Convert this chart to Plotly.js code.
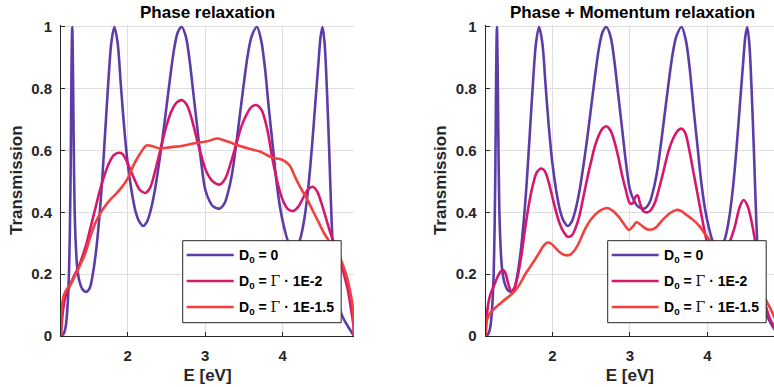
<!DOCTYPE html>
<html>
<head>
<meta charset="utf-8">
<script src="https://cdn.plot.ly/plotly-3.0.1.min.js"></script>
<style>
  html, body { margin: 0; padding: 0; background: #fff; overflow: hidden; }
  #chart { width: 774px; height: 387px; }
</style>
</head>
<body>
<div id="chart"></div>
<script>
// ---------------- DATA ----------------
const panelTitles = ["Phase relaxation", "Phase + Momentum relaxation"];
const xAxisTitle = "E [eV]";
const yAxisTitle = "Transmission";
const seriesNames = [
  "D<sub>0</sub> = 0",
  "D<sub>0</sub> = <span style=\"font-family:'DejaVu Serif';font-weight:normal\">\u0393</span> \u00b7 1E-2",
  "D<sub>0</sub> = <span style=\"font-family:'DejaVu Serif';font-weight:normal\">\u0393</span> \u00b7 1E-1.5"
];
const seriesColors = ["#5e3ca8", "#d5186e", "#f2403f"];
const xTickVals = [2, 3, 4];
const xTickText = ["2", "3", "4"];
const yTickVals = [0, 0.2, 0.4, 0.6, 0.8, 1];
const yTickText = ["0", "0.2", "0.4", "0.6", "0.8", "1"];

// D0 = 0 (no relaxation) – identical in both panels
const E_D0 = [1.14,1.16,1.18,1.20,1.22,1.24,1.255,1.265,1.275,1.285,1.295,1.305,1.315,1.33,1.35,1.38,1.42,1.466,1.51,1.55,1.59,1.63,1.67,1.71,1.75,1.79,1.828,1.87,1.91,1.95,2.0,2.05,2.1,2.15,2.2,2.25,2.3,2.35,2.4,2.45,2.5,2.55,2.6,2.65,2.697,2.75,2.8,2.85,2.9,2.95,3.0,3.05,3.1,3.19,3.25,3.3,3.35,3.4,3.45,3.5,3.55,3.6,3.667,3.72,3.77,3.82,3.87,3.92,3.97,4.02,4.08,4.15,4.22,4.28,4.33,4.38,4.42,4.46,4.49,4.514,4.54,4.57,4.6,4.63,4.66,4.70,4.76,4.82,4.87,4.92];
const T_D0 = [0,0.003,0.01,0.03,0.08,0.18,0.35,0.55,0.85,1.0,0.85,0.6,0.42,0.3,0.22,0.175,0.15,0.143,0.155,0.2,0.27,0.37,0.5,0.66,0.82,0.95,1.0,0.95,0.82,0.69,0.56,0.47,0.405,0.37,0.356,0.37,0.41,0.47,0.55,0.64,0.74,0.84,0.93,0.985,1.0,0.97,0.89,0.78,0.67,0.56,0.475,0.44,0.42,0.413,0.43,0.47,0.53,0.62,0.72,0.82,0.91,0.97,1.0,0.96,0.87,0.74,0.62,0.5,0.41,0.35,0.3,0.28,0.31,0.38,0.48,0.62,0.75,0.88,0.97,1.0,0.95,0.8,0.6,0.38,0.22,0.12,0.07,0.04,0.02,0];

// Phase relaxation, D0 = Γ·1E-2
const E_phase_m2 = [1.14,1.15,1.17,1.20,1.25,1.30,1.36,1.42,1.47,1.52,1.58,1.64,1.70,1.76,1.82,1.88,1.93,1.98,2.04,2.1,2.16,2.23,2.29,2.35,2.42,2.5,2.57,2.64,2.705,2.77,2.84,2.9,2.96,3.02,3.1,3.19,3.26,3.33,3.4,3.47,3.54,3.6,3.667,3.73,3.8,3.87,3.94,4.0,4.07,4.14,4.2,4.27,4.33,4.385,4.44,4.5,4.56,4.62,4.68,4.74,4.79,4.84,4.88,4.91,4.92];
const T_phase_m2 = [0,0.04,0.09,0.13,0.16,0.19,0.22,0.26,0.3,0.35,0.41,0.47,0.52,0.56,0.585,0.593,0.59,0.57,0.535,0.5,0.472,0.463,0.48,0.53,0.6,0.68,0.73,0.757,0.763,0.745,0.69,0.63,0.575,0.53,0.5,0.49,0.51,0.56,0.62,0.68,0.72,0.742,0.747,0.73,0.67,0.57,0.49,0.44,0.41,0.405,0.418,0.45,0.475,0.483,0.47,0.43,0.38,0.33,0.29,0.25,0.2,0.15,0.09,0.04,0];

// Phase relaxation, D0 = Γ·1E-1.5
const E_phase_m15 = [1.14,1.145,1.15,1.17,1.2,1.27,1.36,1.45,1.53,1.6,1.68,1.77,1.85,1.92,1.99,2.07,2.16,2.245,2.33,2.417,2.5,2.58,2.675,2.76,2.846,2.94,3.03,3.145,3.25,3.36,3.47,3.58,3.707,3.8,3.878,3.965,4.03,4.094,4.16,4.23,4.3,4.38,4.46,4.54,4.62,4.7,4.77,4.83,4.87,4.9,4.915,4.92];
const T_phase_m15 = [0,0.06,0.09,0.125,0.145,0.17,0.215,0.265,0.33,0.375,0.41,0.44,0.46,0.48,0.505,0.55,0.59,0.617,0.613,0.607,0.609,0.612,0.614,0.618,0.623,0.627,0.63,0.639,0.633,0.623,0.613,0.605,0.597,0.585,0.576,0.573,0.565,0.55,0.515,0.48,0.45,0.41,0.37,0.33,0.3,0.27,0.235,0.19,0.145,0.1,0.05,0];

// Phase + Momentum relaxation, D0 = Γ·1E-2
const E_mom_m2 = [1.14,1.15,1.17,1.2,1.25,1.3,1.34,1.37,1.40,1.43,1.47,1.5,1.55,1.6,1.65,1.7,1.75,1.8,1.858,1.9,1.95,2.0,2.05,2.1,2.15,2.2,2.25,2.3,2.35,2.4,2.45,2.5,2.55,2.6,2.65,2.695,2.75,2.8,2.85,2.9,2.95,3.0,3.04,3.07,3.1,3.13,3.17,3.22,3.26,3.32,3.38,3.44,3.5,3.56,3.62,3.665,3.71,3.76,3.82,3.88,3.94,3.99,4.05,4.12,4.2,4.28,4.35,4.42,4.468,4.52,4.57,4.62,4.66,4.7,4.75,4.8,4.86,4.92];
const T_mom_m2 = [0,0.05,0.1,0.135,0.165,0.195,0.21,0.213,0.2,0.17,0.145,0.15,0.19,0.26,0.35,0.43,0.49,0.53,0.542,0.535,0.5,0.45,0.4,0.36,0.335,0.321,0.325,0.35,0.39,0.45,0.51,0.565,0.615,0.65,0.672,0.679,0.665,0.63,0.58,0.52,0.47,0.43,0.43,0.45,0.455,0.43,0.405,0.4,0.405,0.43,0.48,0.54,0.6,0.64,0.665,0.671,0.66,0.61,0.53,0.45,0.37,0.31,0.27,0.25,0.26,0.3,0.35,0.42,0.44,0.42,0.37,0.3,0.22,0.15,0.1,0.06,0.03,0];

// Phase + Momentum relaxation, D0 = Γ·1E-1.5
const E_mom_m15 = [1.14,1.145,1.16,1.2,1.28,1.36,1.45,1.52,1.58,1.65,1.75,1.82,1.88,1.93,1.98,2.04,2.1,2.16,2.22,2.28,2.35,2.42,2.5,2.6,2.71,2.78,2.86,2.93,2.99,3.04,3.086,3.14,3.2,3.26,3.33,3.42,3.52,3.6,3.66,3.74,3.82,3.9,3.97,4.05,4.15,4.25,4.35,4.45,4.55,4.65,4.75,4.83,4.88,4.92];
const T_mom_m15 = [0,0.035,0.055,0.075,0.095,0.112,0.13,0.147,0.168,0.2,0.237,0.265,0.29,0.302,0.3,0.285,0.27,0.262,0.262,0.275,0.305,0.345,0.378,0.403,0.414,0.405,0.385,0.36,0.343,0.355,0.368,0.36,0.348,0.344,0.35,0.375,0.398,0.408,0.405,0.39,0.375,0.355,0.33,0.305,0.28,0.265,0.255,0.245,0.22,0.18,0.12,0.08,0.05,0];

// ---------------- LAYOUT / DRAW ----------------
const W = 774, H = 387;
const fx = p => p / W;
const fy = p => 1 - p / H;

const plotL = [61, 354];      // left panel x pixels
const plotR0 = 485.7;         // right panel left x pixel
const yTopPx = 27, yBotPx = 336;
const xMin = 1.14, xMax = 4.92;
const pxPerEV = (plotL[1] - plotL[0]) / (xMax - xMin);
const xMaxRight = xMin + (W - plotR0) / pxPerEV;
const yTopRange = 1.008;
const yDomTopPx = yBotPx - (yBotPx - yTopPx) * yTopRange;

const ink = "#262626";
const fontFam = "'Liberation Sans', Arial, sans-serif";
const titleFont = { family: fontFam, size: 17, color: ink, weight: "bold" };

function mkX(domain, range, anchor) {
  return {
    domain: domain, range: range, anchor: anchor,
    showline: true, linecolor: ink, linewidth: 1,
    ticks: "inside", ticklen: 4, tickcolor: ink, tickwidth: 1,
    tickvals: xTickVals, ticktext: xTickText,
    showgrid: true, gridcolor: "#dedede", gridwidth: 1,
    zeroline: false, ticklabelstandoff: 6,
    tickfont: { family: fontFam, size: 15, color: ink, weight: "bold" },
    title: { text: xAxisTitle, font: titleFont, standoff: 6 }
  };
}
function mkY(anchor) {
  return {
    domain: [fy(yBotPx), fy(yDomTopPx)], range: [0, yTopRange], anchor: anchor,
    showline: true, linecolor: ink, linewidth: 1,
    ticks: "inside", ticklen: 4, tickcolor: ink, tickwidth: 1,
    tickvals: yTickVals, ticktext: yTickText,
    showgrid: true, gridcolor: "#dedede", gridwidth: 1,
    zeroline: false, ticklabelstandoff: 5,
    tickfont: { family: fontFam, size: 15, color: ink, weight: "bold" },
    title: { text: yAxisTitle, font: titleFont, standoff: 4 }
  };
}

function tr(x, y, i, xa, ya) {
  return {
    x: x, y: y, type: "scatter", mode: "lines", name: seriesNames[i],
    xaxis: xa, yaxis: ya, showlegend: false, hoverinfo: "skip",
    line: { color: seriesColors[i], width: 2.6, shape: "spline", smoothing: 0.9 }
  };
}

const data = [
  tr(E_D0, T_D0, 0, "x", "y"),
  tr(E_phase_m2, T_phase_m2, 1, "x", "y"),
  tr(E_phase_m15, T_phase_m15, 2, "x", "y"),
  tr(E_D0, T_D0, 0, "x2", "y2"),
  tr(E_mom_m2, T_mom_m2, 1, "x2", "y2"),
  tr(E_mom_m15, T_mom_m15, 2, "x2", "y2")
];

const annotations = [];
const shapes = [];
const panels = [
  { x0: plotL[0], x1: plotL[1], leg: 182.7 },
  { x0: plotR0, x1: plotR0 + (plotL[1] - plotL[0]), leg: 607.7 }
];
panels.forEach((p, k) => {
  const cx = (p.x0 + p.x1) / 2;
  annotations.push({
    xref: "paper", yref: "paper", x: fx(cx), y: fy(12.5), xanchor: "center", yanchor: "middle",
    text: panelTitles[k], showarrow: false,
    font: { family: fontFam, size: 17, color: "#000", weight: "bold" }
  });
  // legend box
  const lx0 = p.leg, lx1 = p.leg + 158.5, ly0 = 240.7, ly1 = 322.7;
  shapes.push({
    type: "rect", xref: "paper", yref: "paper",
    x0: fx(lx0), x1: fx(lx1), y0: fy(ly1), y1: fy(ly0),
    line: { color: ink, width: 1 }, fillcolor: "#ffffff", layer: "above"
  });
  const rows = [255, 281, 307];
  rows.forEach((ry, i) => {
    shapes.push({
      type: "line", xref: "paper", yref: "paper",
      x0: fx(lx0 + 4), x1: fx(lx0 + 51), y0: fy(ry), y1: fy(ry),
      line: { color: seriesColors[i], width: 2.6 }, layer: "above"
    });
    annotations.push({
      xref: "paper", yref: "paper", x: fx(lx0 + 54), y: fy(ry + 1), xanchor: "left", yanchor: "middle",
      text: seriesNames[i], showarrow: false,
      font: { family: fontFam, size: 14, color: "#000", weight: "bold" }
    });
  });
});

const layout = {
  width: W, height: H,
  margin: { l: 0, r: 0, t: 0, b: 0 },
  paper_bgcolor: "#ffffff", plot_bgcolor: "#ffffff",
  showlegend: false,
  xaxis: mkX([fx(plotL[0]), fx(plotL[1])], [xMin, xMax], "y"),
  yaxis: mkY("x"),
  xaxis2: mkX([fx(plotR0), 1], [xMin, xMaxRight], "y2"),
  yaxis2: mkY("x2"),
  annotations: annotations,
  shapes: shapes
};

Plotly.newPlot("chart", data, layout, { displayModeBar: false });
</script>
</body>
</html>
